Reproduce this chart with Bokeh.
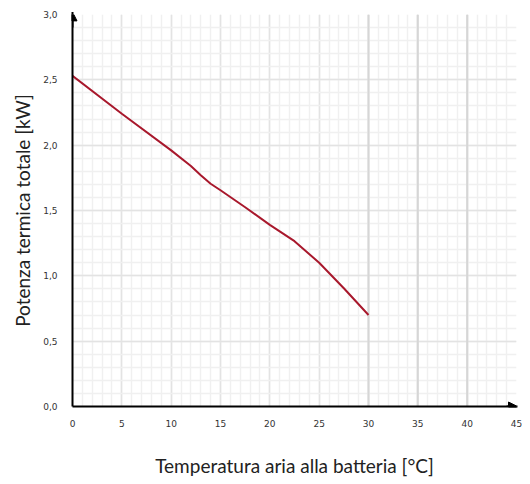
from bokeh.plotting import figure
from bokeh.models import Range1d, SingleIntervalTicker, CustomJSTickFormatter, Arrow, NormalHead, Span
from bokeh.embed import file_html
from bokeh.resources import INLINE

# data
temp_c = [0, 5, 10, 12, 13, 14, 15, 17.5, 20, 22.5, 25, 27.5, 30]
power_kw = [2.53, 2.24, 1.96, 1.84, 1.77, 1.705, 1.655, 1.525, 1.39, 1.265, 1.10, 0.905, 0.70]
x_label = "Temperatura aria alla batteria [°C]"
y_label = "Potenza termica totale [kW]"
dark_grid_x = [30, 35, 40]

p = figure(width=522, height=480, output_backend="svg", toolbar_location=None,
           x_range=Range1d(0, 45), y_range=Range1d(0, 3.0),
           min_border_left=72, min_border_right=6, min_border_top=14, min_border_bottom=74)
p.outline_line_color = None

p.xaxis.ticker = SingleIntervalTicker(interval=5, num_minor_ticks=5)
p.yaxis.ticker = SingleIntervalTicker(interval=0.5, num_minor_ticks=5)
p.yaxis.formatter = CustomJSTickFormatter(code="return tick.toFixed(1).replace('.', ',');")
p.xaxis.formatter = CustomJSTickFormatter(code="return String(Math.round(tick));")

for ax in (p.xaxis, p.yaxis):
    ax.axis_line_color = "black"
    ax.axis_line_width = 2
    ax.major_tick_line_color = None
    ax.minor_tick_line_color = None
    ax.major_label_text_font = "DejaVu Sans"
    ax.major_label_text_font_size = "9px"
    ax.major_label_text_color = "#333333"
    ax.axis_label_text_font = "Lato"
    ax.axis_label_text_font_size = "19px"
    ax.axis_label_text_font_style = "normal"
    ax.axis_label_text_color = "#222222"
p.xaxis.major_label_standoff = 7
p.yaxis.major_label_standoff = 9
p.xaxis.axis_label = x_label
p.yaxis.axis_label = y_label
p.xaxis.axis_label_standoff = 24
p.yaxis.axis_label_standoff = 6

p.xgrid.grid_line_color = "#e3e3e3"
p.ygrid.grid_line_color = "#e3e3e3"
p.xgrid.minor_grid_line_color = "#f0f0f0"
p.ygrid.minor_grid_line_color = "#f0f0f0"
p.xgrid.grid_line_width = 1.5
p.ygrid.grid_line_width = 1.5
p.xgrid.minor_grid_line_width = 1.5
p.ygrid.minor_grid_line_width = 1.5

for xv in dark_grid_x:
    p.add_layout(Span(location=xv, dimension="height", line_color="#d6d6d6", line_width=2, level="underlay"))

p.line(temp_c, power_kw, line_color="#a8182c", line_width=2)

p.add_layout(Arrow(end=NormalHead(size=9, fill_color="black", line_color="black"),
                   x_start=0, y_start=2.9, x_end=0, y_end=3.02, line_color="black", line_width=2))
p.add_layout(Arrow(end=NormalHead(size=9, fill_color="black", line_color="black"),
                   x_start=44, y_start=0, x_end=45.1, y_end=0, line_color="black", line_width=2))

open("out.html", "w").write(file_html(p, INLINE))
